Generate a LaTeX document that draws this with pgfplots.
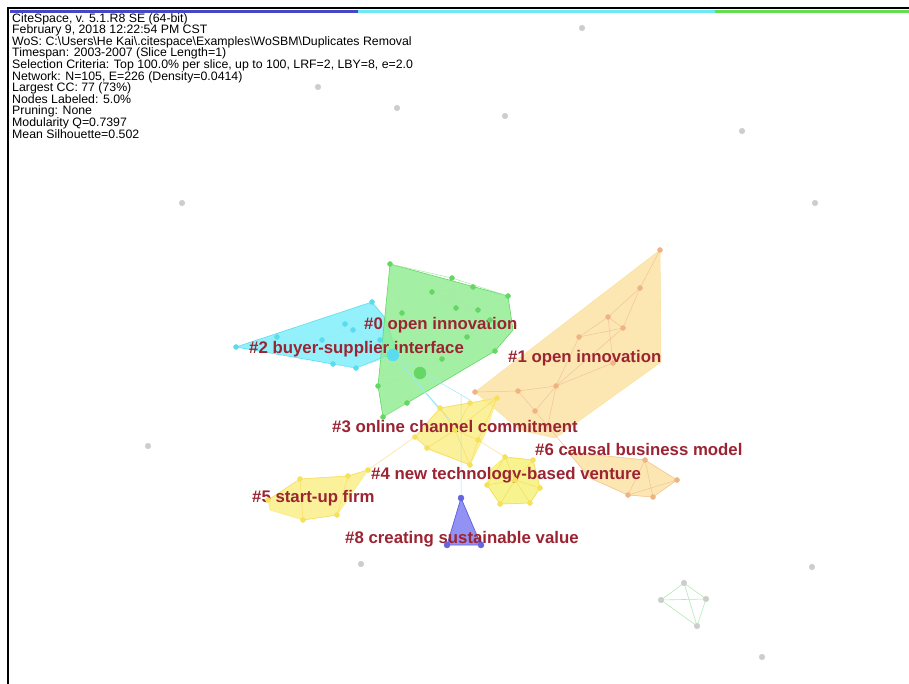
\documentclass[border=0pt]{standalone}
\usepackage{fontspec}
\setmainfont{Liberation Sans}
\newfontfamily\hdrfont[FakeStretch=1.01]{Liberation Sans}
\usepackage{pgfplots}
\pgfplotsset{compat=1.18}

\definecolor{lblred}{RGB}{156,36,50}
\definecolor{cyanfill}{RGB}{120,238,252}
\definecolor{cyannode}{RGB}{90,220,240}
\definecolor{greenfill}{RGB}{140,236,140}
\definecolor{greennode}{RGB}{100,215,100}
\definecolor{peachfill}{RGB}{252,226,160}
\definecolor{peachnode}{RGB}{240,180,130}
\definecolor{yelfill}{RGB}{250,238,130}
\definecolor{yelnode}{RGB}{245,225,90}
\definecolor{brightyel}{RGB}{245,238,95}
\definecolor{bluefill}{RGB}{135,135,245}
\definecolor{bluenode}{RGB}{100,100,225}
\definecolor{isogray}{RGB}{205,205,205}
\definecolor{barblue}{RGB}{70,70,200}
\definecolor{barcyan}{RGB}{110,232,242}
\definecolor{bargreen}{RGB}{100,222,80}

\begin{document}
\begin{tikzpicture}
\begin{axis}[
    width=909pt, height=684pt, scale only axis,
    xmin=0, xmax=909, ymin=0, ymax=684,
    y dir=reverse,
    axis lines=none,
    clip=true,
    unbounded coords=jump,
]

% white canvas, so the page covers the whole axis
\addplot[fill=white, draw=none] coordinates {(0,0) (909,0) (909,684) (0,684) (0,0)};

% frame and slice colour bar
\addplot[black, line width=2pt] coordinates {(8,684) (8,8.5) (909,8.5)};
\addplot[barblue, line width=3pt] coordinates {(10,11.5) (358,11.5)};
\addplot[barcyan, line width=3pt] coordinates {(358,11.5) (715,11.5)};
\addplot[bargreen, line width=3pt] coordinates {(715,11.5) (909,11.5)};

% cluster hulls
\addplot[fill=cyanfill, draw=cyannode, fill opacity=0.8, line width=0.6pt]
  coordinates {(236,347) (372,302) (385,318) (397,352) (356,368) (333,364) (236,347)};
\addplot[fill=greenfill, draw=greennode, fill opacity=0.8, line width=0.6pt]
  coordinates {(390,264) (508,296) (513,330) (495,351) (407,403) (383,417) (378,386) (390,264)};
\addplot[fill=peachfill, draw=peachfill, fill opacity=0.8, line width=0.6pt]
  coordinates {(660,250) (661,362) (555,438) (520,430) (475,392) (660,250)};
\addplot[fill=peachfill, draw=peachfill, fill opacity=0.8, line width=0.6pt]
  coordinates {(568,452) (645,460) (677,480) (653,497) (628,495) (590,478) (568,452)};
\addplot[fill=yelfill, draw=yelfill, fill opacity=0.8, line width=0.6pt]
  coordinates {(415,437) (440,408) (497,398) (486,432) (470,465) (430,450) (415,437)};
\addplot[fill=brightyel, draw=brightyel, fill opacity=0.7, line width=0.6pt]
  coordinates {(490,470) (505,457) (533,460) (540,488) (530,503) (500,504) (487,485) (490,470)};
\addplot[fill=yelfill, draw=yelfill, fill opacity=0.8, line width=0.6pt]
  coordinates {(268,500) (300,479) (348,476) (368,470) (337,515) (303,520) (270,510) (268,500)};
\addplot[fill=bluefill, draw=bluenode, fill opacity=0.9, line width=0.8pt]
  coordinates {(461,498) (447,545) (481,545) (461,498)};

% edges
\addplot[cyannode!60, line width=0.5pt] coordinates {
  (236,347) (277,337) (322,340) (345,324) (372,302) (nan,nan)
  (322,340) (353,330) (393,355) (nan,nan)
  (345,324) (380,340) (393,355) (nan,nan)
  (322,340) (333,364) (356,368) (393,355) (nan,nan)
  (372,302) (380,340) (nan,nan)
  (461,498) (461,395) (nan,nan)
  (393,355) (450,420) (nan,nan)
  (393,355) (470,400) (nan,nan)
  (393,355) (440,410)};
\addplot[greennode!55, line width=0.5pt] coordinates {
  (390,264) (452,278) (508,296) (nan,nan)
  (432,292) (473,287) (478,310) (456,308) (432,292) (478,310) (nan,nan)
  (452,278) (456,308) (473,287) (nan,nan)
  (452,278) (432,292) (nan,nan)
  (508,296) (478,310) (467,337) (456,308) (nan,nan)
  (467,337) (495,351) (nan,nan)
  (490,320) (467,337) (nan,nan)
  (390,264) (402,313) (442,359) (420,373) (407,403) (383,417) (nan,nan)
  (378,386) (420,373) (nan,nan)
  (442,359) (467,337)};
\addplot[peachnode!80, line width=0.5pt] coordinates {
  (660,250) (640,288) (608,317) (579,337) (623,328) (640,288) (nan,nan)
  (608,317) (623,328) (nan,nan)
  (608,317) (613,363) (556,386) (nan,nan)
  (623,328) (556,386) (518,391) (475,392) (nan,nan)
  (518,391) (535,411) (556,386) (579,337) (nan,nan)
  (556,386) (547,430) (nan,nan)
  (535,411) (572,455) (nan,nan)
  (568,452) (645,460) (677,480) (653,497) (628,495) (590,478) (568,452) (nan,nan)
  (645,460) (653,497) (nan,nan)
  (628,495) (677,480) (nan,nan)
  (645,460) (628,495)};
\addplot[yelnode!80!orange, line width=0.5pt, opacity=0.6] coordinates {
  (415,437) (440,408) (470,403) (497,398) (478,440) (470,465) (427,448) (415,437) (nan,nan)
  (440,408) (455,430) (478,440) (nan,nan)
  (470,403) (455,430) (470,465) (nan,nan)
  (427,448) (455,430) (497,398) (nan,nan)
  (505,457) (533,460) (540,488) (530,503) (500,504) (487,485) (505,457) (nan,nan)
  (505,457) (515,480) (530,503) (nan,nan)
  (533,460) (515,480) (500,504) (nan,nan)
  (487,485) (515,480) (540,488) (nan,nan)
  (268,500) (300,479) (348,476) (368,470) (nan,nan)
  (300,479) (303,520) (337,515) (348,476) (nan,nan)
  (368,470) (415,437) (nan,nan)
  (478,440) (505,457)};
\addplot[greennode!50, line width=0.6pt] coordinates {
  (684,583) (706,599) (697,626) (661,600) (684,583) (697,626) (nan,nan)
  (661,600) (706,599)};

% nodes
\addplot[only marks, mark=*, mark size=2.8pt, isogray, mark options={draw=isogray}] coordinates {
  (582,28) (318,87) (397,108) (505,116) (742,131) (182,203) (815,203)
  (148,446) (361,564) (812,567) (762,657)
  (684,583) (661,600) (706,599) (697,626)};
\addplot[only marks, mark=*, mark size=2.5pt, cyannode] coordinates {
  (236,347) (277,337) (322,340) (345,324) (372,302) (353,330) (333,364) (356,368) (380,340)};
\addplot[only marks, mark=*, mark size=6pt, cyannode] coordinates {(393,355)};
\addplot[only marks, mark=*, mark size=2.5pt, greennode] coordinates {
  (390,264) (452,278) (432,292) (473,287) (508,296) (456,308) (478,310) (402,313)
  (467,337) (495,351) (442,359) (378,386) (407,403) (383,417) (490,320)};
\addplot[only marks, mark=*, mark size=6pt, greennode] coordinates {(420,373)};
\addplot[only marks, mark=*, mark size=2.5pt, peachnode] coordinates {
  (660,250) (640,288) (608,317) (623,328) (579,337) (613,363) (556,386) (518,391)
  (475,392) (535,411) (645,460) (677,480) (653,497) (628,495)};
\addplot[only marks, mark=*, mark size=2.5pt, yelnode] coordinates {
  (415,437) (440,408) (470,403) (497,398) (478,440) (470,465) (427,448) (455,430)
  (505,457) (533,460) (540,488) (530,503) (500,504) (487,485) (515,480)
  (268,500) (300,479) (348,476) (368,470) (337,515) (303,520)};
\addplot[only marks, mark=*, mark size=3pt, bluenode] coordinates {
  (461,498) (447,545) (481,545)};

% cluster labels
\begin{scope}[every node/.style={anchor=base west, inner sep=0pt, text=lblred,
    font=\fontsize{16.8}{18}\selectfont\bfseries}]
\node at (axis cs:364,329) {\#0 open innovation};
\node at (axis cs:249,353) {\#2 buyer-supplier interface};
\node at (axis cs:508,362) {\#1 open innovation};
\node at (axis cs:332,432) {\#3 online channel commitment};
\node at (axis cs:535,455) {\#6 causal business model};
\node at (axis cs:371,479) {\#4 new technology-based venture};
\node at (axis cs:252,502) {\#5 start-up firm};
\node at (axis cs:345,543) {\#8 creating sustainable value};
\end{scope}

% header
\node[anchor=north west, inner sep=0pt, align=left,
  font=\hdrfont\fontsize{12.2}{11.6}\selectfont] at (axis cs:12,13) {%
CiteSpace, v. 5.1.R8 SE (64-bit)\\
February 9, 2018 12:22:54 PM CST\\
WoS: C:\textbackslash Users\textbackslash He Kai\textbackslash .citespace\textbackslash Examples\textbackslash WoSBM\textbackslash Duplicates Removal\\
Timespan: 2003-2007 (Slice Length=1)\\
Selection Criteria: Top 100.0\% per slice, up to 100, LRF=2, LBY=8, e=2.0\\
Network: N=105, E=226 (Density=0.0414)\\
Largest CC: 77 (73\%)\\
Nodes Labeled: 5.0\%\\
Pruning: None\\
Modularity Q=0.7397\\
Mean Silhouette=0.502};

\end{axis}
\end{tikzpicture}
\end{document}
